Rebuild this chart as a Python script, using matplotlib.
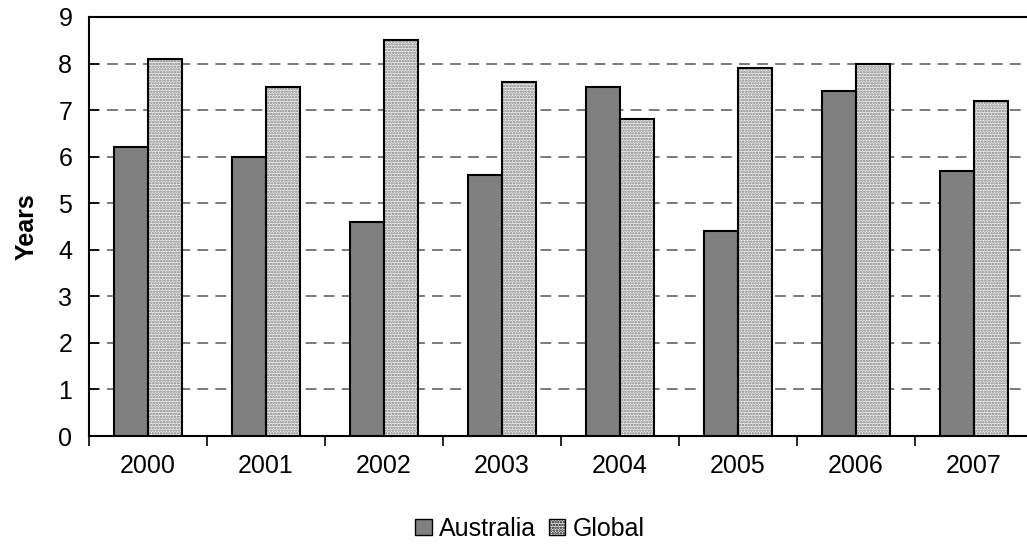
import matplotlib
matplotlib.use("Agg")
import matplotlib.pyplot as plt
import numpy as np
from matplotlib.patches import Patch

years = ["2000", "2001", "2002", "2003", "2004", "2005", "2006", "2007"]
australia = [6.2, 6.0, 4.6, 5.6, 7.5, 4.4, 7.4, 5.7]
global_vals = [8.1, 7.5, 8.5, 7.6, 6.8, 7.9, 8.0, 7.2]

plt.rcParams["font.family"] = ["Liberation Sans", "DejaVu Sans"]
plt.rcParams["hatch.linewidth"] = 1.2
plt.rcParams["hatch.color"] = "#7a7a7a"

fig = plt.figure(figsize=(10.27, 5.44), dpi=100)
ax = fig.add_axes([89 / 1027, 108 / 544, 944 / 1027, 419 / 544])

x = np.arange(len(years))
w = 0.29
aus_col = "#808080"
glob_face = "#f2f2f2"
fs = 18

ax.bar(x - w / 2, australia, w, color=aus_col, edgecolor="black", linewidth=1.5, zorder=3)
# dotted fill for the global series, outlined separately so the dots stay grey
ax.bar(x + w / 2, global_vals, w, color=glob_face, edgecolor="#7a7a7a", linewidth=0,
       hatch="......", zorder=3)
ax.bar(x + w / 2, global_vals, w, fill=False, edgecolor="black", linewidth=1.5, zorder=4)

ax.set_xlim(-0.5, len(years) - 0.5)
ax.set_ylim(0, 9)
ax.set_yticks(range(0, 10))
ax.yaxis.grid(True, linestyle=(0, (6, 4)), color="#707070", linewidth=1.3, zorder=0)
ax.set_axisbelow(True)

ax.set_xticks(x)
ax.set_xticklabels(years, fontsize=fs)
ax.set_xticks(np.arange(-0.5, len(years), 1), minor=True)
ax.tick_params(axis="x", which="major", length=0, pad=13)
ax.tick_params(axis="x", which="minor", direction="out", length=7, width=1.2)
ax.tick_params(axis="y", direction="in", length=7, width=1.2, labelsize=fs, pad=12)

for side in ["left", "bottom", "top"]:
    ax.spines[side].set_linewidth(1.5)
ax.spines["right"].set_visible(False)

ax.set_ylabel("Years", fontsize=fs, fontweight="bold", labelpad=14)

handles = [
    Patch(facecolor=aus_col, edgecolor="black", linewidth=1.0),
    Patch(facecolor=glob_face, edgecolor="black", linewidth=1.0, hatch="......"),
]
fig.legend(handles, ["Australia", "Global"], loc="center", bbox_to_anchor=(0.516, 0.028),
           ncol=2, frameon=False, fontsize=fs, handlelength=0.65, handleheight=0.65,
           handletextpad=0.3, columnspacing=0.5)

fig.savefig("out.png", dpi=100)
